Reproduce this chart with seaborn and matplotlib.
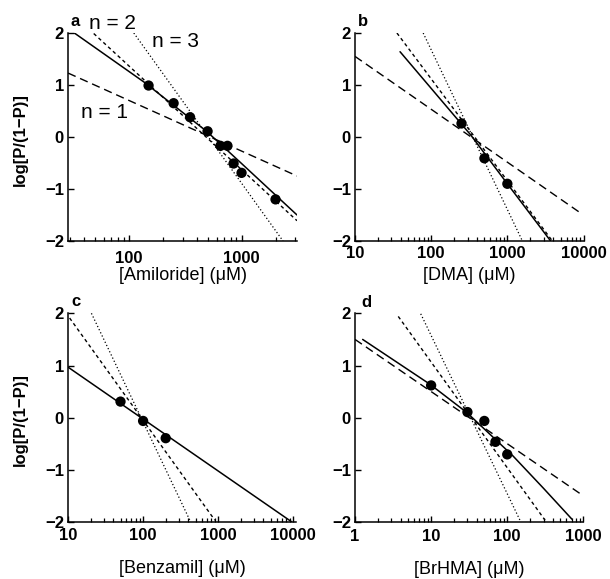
import matplotlib
matplotlib.use('Agg')
import matplotlib.pyplot as plt
import seaborn as sns
from matplotlib.ticker import NullFormatter, LogLocator

# panel a - amiloride
amil_conc = [150, 250, 350, 500, 650, 750, 850, 1000, 2000]
amil_logit = [0.99, 0.65, 0.38, 0.11, -0.17, -0.17, -0.51, -0.69, -1.20]
amil_fit_x = [29, 33, 138, 490, 1000, 3100]
amil_fit_y = [2.0, 2.0, 1.05, 0.11, -0.51, -1.50]
amil_n1_x, amil_n1_y = [29, 3100], [1.23, -0.75]
amil_n2_x, amil_n2_y = [49, 3100], [1.99, -1.61]
amil_n3_x, amil_n3_y = [111, 2330], [2.0, -2.0]

# panel b - DMA
dma_conc = [250, 500, 1000]
dma_logit = [0.26, -0.41, -0.90]
dma_fit_x = [39, 330, 1000, 3700]
dma_fit_y = [1.64, 0.04, -0.90, -2.0]
dma_n1_x, dma_n1_y = [10, 8700], [1.55, -1.44]
dma_n2_x, dma_n2_y = [35.5, 3900], [2.0, -2.0]
dma_n3_x, dma_n3_y = [78.5, 1575], [2.0, -2.0]

# panel c - benzamil
benz_conc = [50, 100, 200]
benz_logit = [0.31, -0.06, -0.39]
benz_fit_x = [10, 9500]
benz_fit_y = [0.97, -1.99]
benz_n2_x, benz_n2_y = [10.5, 903], [1.91, -1.96]
benz_n3_x, benz_n3_y = [20.5, 419], [2.0, -1.96]

# panel d - BrHMA
brhma_conc = [10, 30, 50, 70, 100]
brhma_logit = [0.62, 0.11, -0.06, -0.46, -0.70]
brhma_fit_x = [1.26, 9.7, 29.5, 119, 300, 708]
brhma_fit_y = [1.5, 0.64, 0.10, -0.73, -1.35, -1.94]
brhma_n1_x, brhma_n1_y = [1, 905], [1.5, -1.45]
brhma_n2_x, brhma_n2_y = [3.7, 314], [1.94, -1.96]
brhma_n3_x, brhma_n3_y = [7.3, 147], [1.99, -1.96]

y_ticks = [-2, -1, 0, 1, 2]

sns.set_style('ticks')
plt.rcParams['font.family'] = ['Liberation Sans', 'DejaVu Sans']
for k in ['axes.edgecolor', 'xtick.color', 'ytick.color', 'text.color', 'axes.labelcolor']:
    plt.rcParams[k] = 'black'

stilus = {
    'fit': dict(linestyle='-', lw=1.1),
    'n1': dict(linestyle=(0, (6, 3.5)), lw=1.0),
    'n2': dict(linestyle=(0, (2.5, 2.2)), lw=1.0),
    'n3': dict(linestyle=(0, (1, 1.8)), lw=0.9),
}

panelek = [
    dict(betu='a', pos=[0.1115, 0.5838, 0.3754, 0.3592], xlim=(29, 3100),
         xticks=[100, 1000], xlabel='[Amiloride] (μM)', ylabel=True,
         pont=(amil_conc, amil_logit),
         vonalak=[('fit', amil_fit_x, amil_fit_y), ('n1', amil_n1_x, amil_n1_y),
                  ('n2', amil_n2_x, amil_n2_y), ('n3', amil_n3_x, amil_n3_y)],
         tickpad=7, xlab_y=-0.165, betu_xy=(0.012, 1.054)),
    dict(betu='b', pos=[0.582, 0.5838, 0.3746, 0.3592], xlim=(10, 10000),
         xticks=[10, 100, 1000, 10000], xlabel='[DMA] (μM)', ylabel=False,
         pont=(dma_conc, dma_logit),
         vonalak=[('fit', dma_fit_x, dma_fit_y), ('n1', dma_n1_x, dma_n1_y),
                  ('n2', dma_n2_x, dma_n2_y), ('n3', dma_n3_x, dma_n3_y)],
         tickpad=3.5, xlab_y=-0.165, betu_xy=(0.013, 1.054)),
    dict(betu='c', pos=[0.1115, 0.0979, 0.3744, 0.361], xlim=(10, 11000),
         xticks=[10, 100, 1000, 10000], xlabel='[Benzamil] (μM)', ylabel=True,
         pont=(benz_conc, benz_logit),
         vonalak=[('fit', benz_fit_x, benz_fit_y),
                  ('n2', benz_n2_x, benz_n2_y), ('n3', benz_n3_x, benz_n3_y)],
         tickpad=4, xlab_y=-0.223, betu_xy=(0.015, 1.055)),
    dict(betu='d', pos=[0.582, 0.0979, 0.3743, 0.361], xlim=(1, 1000),
         xticks=[1, 10, 100, 1000], xlabel='[BrHMA] (μM)', ylabel=False,
         pont=(brhma_conc, brhma_logit),
         vonalak=[('fit', brhma_fit_x, brhma_fit_y), ('n1', brhma_n1_x, brhma_n1_y),
                  ('n2', brhma_n2_x, brhma_n2_y), ('n3', brhma_n3_x, brhma_n3_y)],
         tickpad=5, xlab_y=-0.228, betu_xy=(0.03, 1.05)),
]

fig = plt.figure(figsize=(6.1, 5.79), dpi=100)

for p in panelek:
    ax = fig.add_axes(p['pos'])
    for nev, xs, ys in p['vonalak']:
        sns.lineplot(x=xs, y=ys, ax=ax, color='black', errorbar=None,
                     sort=False, **stilus[nev])
    sns.scatterplot(x=p['pont'][0], y=p['pont'][1], ax=ax, color='black',
                    s=55, edgecolor='none', zorder=5)
    ax.set_xscale('log')
    ax.set_xlim(*p['xlim'])
    ax.set_ylim(-2, 2)
    ax.set_xticks(p['xticks'])
    ax.set_xticklabels([str(t) for t in p['xticks']])
    ax.xaxis.set_minor_locator(LogLocator(base=10, subs=range(2, 10), numticks=20))
    ax.xaxis.set_minor_formatter(NullFormatter())
    ax.set_yticks(y_ticks)
    ax.set_yticklabels(['−2', '−1', '0', '1', '2'])
    sns.despine(ax=ax)
    for s in ['left', 'bottom']:
        ax.spines[s].set_linewidth(1.1)
    ax.tick_params(which='major', direction='in', length=4, width=1.0,
                   labelsize=12)
    ax.tick_params(axis='x', which='minor', direction='in', length=3,
                   width=0.9, bottom=True)
    ax.tick_params(axis='x', which='major', pad=p['tickpad'])
    ax.tick_params(axis='y', pad=3)
    for lab in ax.get_xticklabels() + ax.get_yticklabels():
        lab.set_fontweight('bold')
    ax.set_xlabel(p['xlabel'], fontsize=13)
    ax.xaxis.label.set_va('center')
    ax.xaxis.set_label_coords(0.5, p['xlab_y'])
    if p['ylabel']:
        ax.set_ylabel('log[P/(1−P)]', fontsize=12, fontweight='bold')
        ax.yaxis.label.set_va('center')
        ax.yaxis.set_label_coords(-0.21, 0.49)
    else:
        ax.set_ylabel('')
    ax.text(p['betu_xy'][0], p['betu_xy'][1], p['betu'], transform=ax.transAxes,
            fontsize=12, fontweight='bold', ha='left', va='center')
    if p['betu'] == 'a':
        ax.text(72, 2.19, 'n = 2', fontsize=15, ha='center', va='center', clip_on=False)
        ax.text(258, 1.84, 'n = 3', fontsize=15, ha='center', va='center')
        ax.text(61, 0.47, 'n = 1', fontsize=15, ha='center', va='center')

fig.savefig('out.png', dpi=100)
